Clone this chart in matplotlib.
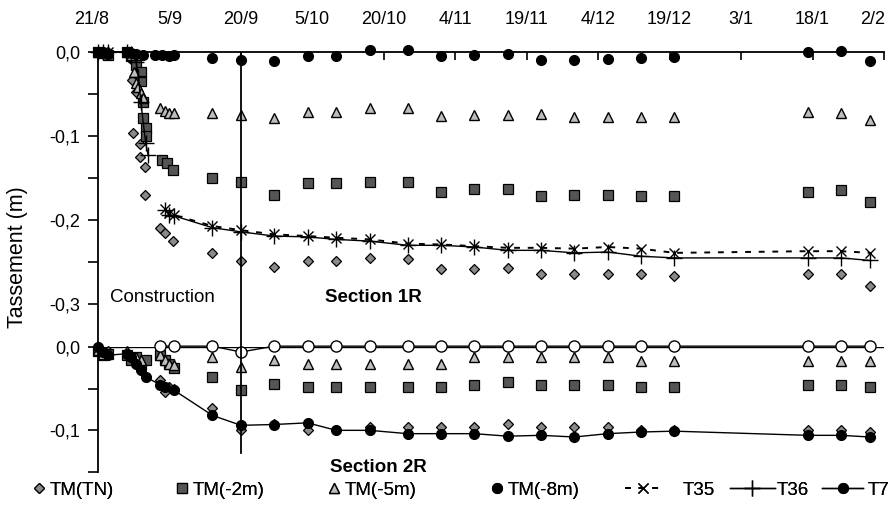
import numpy as np
import matplotlib.pyplot as plt
import matplotlib.transforms as mtransforms

plt.rcParams['font.family'] = ['Liberation Sans', 'DejaVu Sans']

# axe des temps : jours depuis le 21/8
tick_jours = [0, 15, 30, 45, 60, 75, 90, 105, 120, 135, 150, 165]
tick_dates = ['21/8', '5/9', '20/9', '5/10', '20/10', '4/11', '19/11',
              '4/12', '19/12', '3/1', '18/1', '2/2']

# mesures hebdomadaires (jours)
hebdo = [24, 30, 37, 44, 50, 57, 65, 72, 79, 86, 93, 100, 107, 114, 121, 149, 156, 162]

# ---- Section 1R ----
tn1_x = [0, 1, 2, 6, 7, 7.2, 8, 7.4, 8.8, 8.8, 9.8, 9.8, 13, 14, 15.8] + hebdo
tn1_y = [0, -0.002, 0, -0.001, -0.008, -0.033, -0.048, -0.096, -0.110, -0.125, -0.137, -0.170,
         -0.210, -0.215, -0.225,
         -0.239, -0.249, -0.256, -0.249, -0.249, -0.245, -0.246, -0.258, -0.258, -0.257,
         -0.264, -0.264, -0.264, -0.264, -0.267, -0.264, -0.264, -0.279]

m2_1_x = [0, 1, 2, 6, 7, 8, 9, 9, 9.5, 9.5, 10, 10, 13.5, 14.5, 15.8] + hebdo
m2_1_y = [0, -0.001, -0.003, 0, -0.005, -0.015, -0.024, -0.035, -0.060, -0.078, -0.090, -0.100,
          -0.129, -0.132, -0.140,
          -0.150, -0.155, -0.170, -0.156, -0.156, -0.155, -0.155, -0.167, -0.163, -0.163,
          -0.171, -0.170, -0.170, -0.171, -0.171, -0.167, -0.164, -0.179]

m5_1_x = [0, 1, 6, 7, 7.5, 8, 8.5, 9, 9.5, 13, 14, 15, 16] + hebdo
m5_1_y = [0, 0, 0, -0.003, -0.024, -0.037, -0.042, -0.049, -0.055, -0.067, -0.070, -0.072, -0.072,
          -0.073, -0.075, -0.079, -0.071, -0.071, -0.067, -0.067, -0.076, -0.075, -0.075,
          -0.074, -0.077, -0.077, -0.077, -0.077, -0.071, -0.073, -0.081]

m8_1_x = [0, 1, 2, 6, 7, 8, 9.5, 12, 13.5, 15, 16] + hebdo
m8_1_y = [0, 0, -0.002, 0, -0.001, -0.002, -0.003, -0.004, -0.004, -0.005, -0.003,
          -0.007, -0.009, -0.011, -0.005, -0.005, 0.002, 0.002, -0.005, -0.004, -0.002,
          -0.009, -0.009, -0.008, -0.007, -0.006, 0.0, 0.001, -0.011]

t35_x = [0, 1, 2, 6, 7, np.nan, 14, 15, 16] + hebdo
t35_y = [0, 0, 0, 0, -0.002, np.nan, -0.187, -0.192, -0.194,
         -0.207, -0.212, -0.217, -0.219, -0.221, -0.223, -0.228, -0.229, -0.231, -0.233,
         -0.233, -0.234, -0.232, -0.234, -0.239, -0.237, -0.237, -0.239]

t36_x = [0, 1, 2, 6, 7, 8, 8.5, 9, 10, 10.5, np.nan, 14, 15, 16] + hebdo
t36_y = [0, 0, 0, 0, -0.002, -0.012, -0.030, -0.060, -0.108, -0.122, np.nan, -0.188, -0.194, -0.195,
         -0.209, -0.214, -0.219, -0.220, -0.223, -0.225, -0.230, -0.230, -0.232, -0.236,
         -0.236, -0.239, -0.238, -0.243, -0.245, -0.245, -0.245, -0.248]

# ---- Section 2R ----
tn2_x = [0, 1, 2, 6, 7, 8, 9, 10, 13, 14, 15, 16] + hebdo
tn2_y = [0, -0.010, -0.005, -0.010, -0.015, -0.020, -0.028, -0.036, -0.040, -0.054, -0.048, -0.050,
         -0.073, -0.100, -0.092, -0.100, -0.100, -0.096, -0.096, -0.096, -0.096, -0.092,
         -0.096, -0.096, -0.096, -0.100, -0.100, -0.100, -0.100, -0.102]

m2_2_x = [0, 1, 2, 6, 7, 8, 9, 10, 13, 14, 15, 16] + hebdo
m2_2_y = [-0.005, -0.010, -0.008, -0.010, -0.015, -0.012, -0.020, -0.015, -0.010, -0.015, -0.020, -0.025,
          -0.036, -0.052, -0.044, -0.048, -0.048, -0.048, -0.048, -0.048, -0.045, -0.042,
          -0.045, -0.045, -0.045, -0.048, -0.048, -0.046, -0.046, -0.048]

m5_2_x = [0, 1, 6, 7, 8, 9, 13, 14, 15, 16] + hebdo
m5_2_y = [-0.003, -0.008, -0.005, -0.010, -0.012, -0.015, -0.010, -0.015, -0.020, -0.022,
          -0.012, -0.024, -0.015, -0.020, -0.020, -0.020, -0.020, -0.020, -0.012, -0.012,
          -0.012, -0.012, -0.012, -0.017, -0.017, -0.017, -0.017, -0.017]

m8_2_x = [13, 16] + hebdo
m8_2_y = [0.001, 0.001, 0.001, -0.006, 0.001, 0.001, 0.001, 0.001, 0.001, 0.001, 0.001, 0.001,
          0.001, 0.001, 0.001, 0.001, 0.001, 0.001, 0.001, 0.001]

t7_x = [0, 1, 2, 6, 7, 8, 9, 10, 13, 14, 16] + hebdo
t7_y = [0, -0.006, -0.010, -0.008, -0.012, -0.020, -0.028, -0.036, -0.045, -0.048, -0.052,
        -0.082, -0.094, -0.093, -0.091, -0.100, -0.100, -0.104, -0.104, -0.104, -0.107,
        -0.106, -0.108, -0.104, -0.102, -0.101, -0.106, -0.106, -0.108]

fin_construction = 30

fig = plt.figure(figsize=(8.95, 5.15), dpi=100)
ax1 = fig.add_axes([98/895, 1-347/515, 786/895, 295/515])
ax2 = fig.add_axes([98/895, 1-472/515, 786/895, 125/515])

styles = dict(
    tn=dict(marker='D', ms=5.5, mfc='#8a8a8a', mec='black', mew=0.9, ls='none'),
    m2=dict(marker='s', ms=7, mfc='#555555', mec='black', mew=0.9, ls='none'),
    m5=dict(marker='^', ms=7.5, mfc='#bdbdbd', mec='black', mew=1.0, ls='none'),
    m8=dict(marker='o', ms=7, mfc='black', mec='black', ls='none'),
)

h_tn, = ax1.plot(tn1_x, tn1_y, label='TM(TN)', clip_on=False, **styles['tn'])
h_m2, = ax1.plot(m2_1_x, m2_1_y, label='TM(-2m)', clip_on=False, **styles['m2'])
h_m5, = ax1.plot(m5_1_x, m5_1_y, label='TM(-5m)', clip_on=False, **styles['m5'])
h_m8, = ax1.plot(m8_1_x, m8_1_y, label='TM(-8m)', clip_on=False, **styles['m8'])
h_t35, = ax1.plot(t35_x, t35_y, ls=(0, (3, 4)), lw=1.4, color='black', marker='x', ms=7,
                  mew=1.0, label='T35', clip_on=False)
h_t36, = ax1.plot(t36_x, t36_y, ls='-', lw=1.0, color='black', marker='+', ms=11,
                  mew=1.0, label='T36', clip_on=False)

ax2.axhline(0, color='black', lw=1.0)
ax2.plot(tn2_x, tn2_y, clip_on=False, **styles['tn'])
ax2.plot(m2_2_x, m2_2_y, clip_on=False, **styles['m2'])
ax2.plot(m5_2_x, m5_2_y, clip_on=False, **styles['m5'])
ax2.plot(m8_2_x, m8_2_y, ls='-', lw=1.0, color='black', marker='o', ms=8, mfc='white',
         mec='black', mew=1.0, clip_on=False)
h_t7, = ax2.plot(t7_x, t7_y, ls='-', lw=1.0, color='black', marker='o', ms=7,
                 label='T7', clip_on=False)

ax1.axvline(fin_construction, color='black', lw=1.3)
ax2.axvline(fin_construction, ymin=0.15, ymax=1, color='black', lw=1.3)

for ax in (ax1, ax2):
    ax.set_xlim(0, 165)
    for s in ('right', 'bottom', 'top'):
        ax.spines[s].set_visible(False)
    ax.spines['left'].set_linewidth(1.3)

ax1.set_ylim(-0.351, 0.0)
ax2.set_ylim(-0.15, 0.0)

ax1.spines['top'].set_visible(True)
ax1.spines['top'].set_linewidth(1.3)
ax1.xaxis.tick_top()
ax1.set_xticks(tick_jours)
ax1.set_xticklabels(tick_dates, fontsize=13)
ax1.tick_params(axis='x', direction='in', length=6, width=1.2, pad=17)
ax2.set_xticks([])

# premiere et derniere date un peu decalees vers la gauche
labs = ax1.get_xticklabels()
labs[0].set_transform(labs[0].get_transform() + mtransforms.ScaledTranslation(-0.06, 0, fig.dpi_scale_trans))
labs[-1].set_transform(labs[-1].get_transform() + mtransforms.ScaledTranslation(-0.11, 0, fig.dpi_scale_trans))

ax1.set_yticks([0, -0.05, -0.1, -0.15, -0.2, -0.25, -0.3])
ax1.set_yticklabels(['0,0', '', '-0,1', '', '-0,2', '', '-0,3'], fontsize=13)
ax2.set_yticks([0, -0.05, -0.1, -0.15])
ax2.set_yticklabels(['0,0', '', '-0,1', ''], fontsize=13)
for ax in (ax1, ax2):
    ax.tick_params(axis='y', direction='out', length=7, width=1.2, pad=6)

fig.text(18/895, 1-257/515, 'Tassement (m)', rotation=90, ha='center', va='center', fontsize=15.5)
fig.text(110/895, 1-297/515, 'Construction', ha='left', va='center', fontsize=13.5)
fig.text(325/895, 1-298/515, 'Section 1R', ha='left', va='center', fontsize=13.5,
         fontweight='bold')
fig.text(330/895, 1-467/515, 'Section 2R', ha='left', va='center', fontsize=13.5,
         fontweight='bold')

# legende : une entree par position (x gauche en pixels, longueur du trait, ecart texte)
leg_y = 1 - 490/515
entrees = [(h_tn, 32, 0.8, 0.15), (h_m2, 175, 0.8, 0.15), (h_m5, 327, 0.8, 0.15),
           (h_m8, 490, 0.8, 0.15), (h_t35, 625, 1.9, 1.2), (h_t36, 730, 2.4, 0.1),
           (h_t7, 822, 2.2, 0.25)]
for h, x0, hl, tp in entrees:
    leg = fig.legend(handles=[h], loc='center left', bbox_to_anchor=(x0/895, leg_y),
                     frameon=False, fontsize=13.5, handlelength=hl, handletextpad=tp,
                     borderpad=0, borderaxespad=0)
    fig.add_artist(leg)

fig.savefig('out.png', dpi=100)
